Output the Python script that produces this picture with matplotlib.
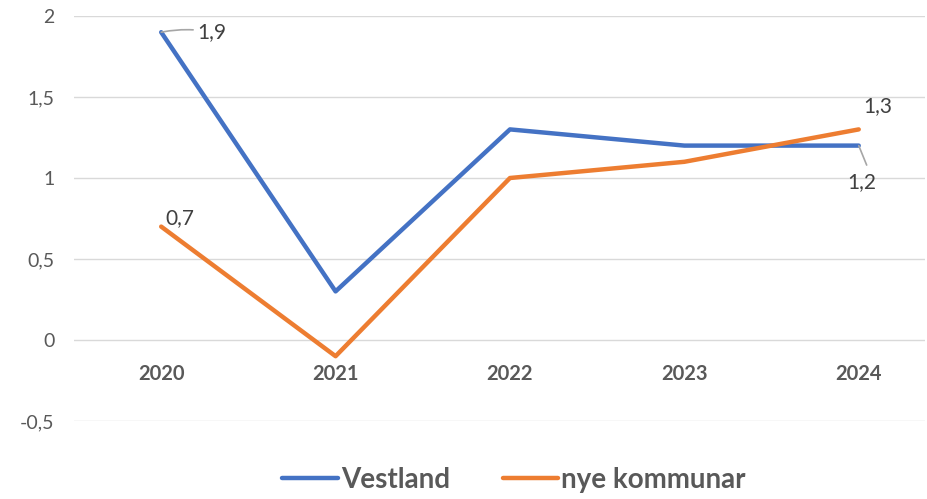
import matplotlib.pyplot as plt

years = ["2020", "2021", "2022", "2023", "2024"]
vestland = [1.9, 0.3, 1.3, 1.2, 1.2]
nye = [0.7, -0.1, 1.0, 1.1, 1.3]

blue = "#4472C4"
orange = "#ED7D31"
grey = "#595959"

plt.rcParams['font.family'] = ['Lato', 'DejaVu Sans']

fig = plt.figure(figsize=(9.27, 4.99), dpi=100)
ax = fig.add_axes([74 / 927, 1 - 421 / 499, (925 - 74) / 927, (421 - 16) / 499])

x = list(range(len(years)))
ax.plot(x, vestland, color=blue, lw=3.2, solid_capstyle='round', label="Vestland", zorder=3)
ax.plot(x, nye, color=orange, lw=3.2, solid_capstyle='round', label="nye kommunar", zorder=3)

ax.set_ylim(-0.5, 2)
ax.set_xlim(-0.5, 4.38)
ax.set_yticks([-0.5, 0, 0.5, 1, 1.5, 2])
ax.set_yticklabels(["-0,5", "0", "0,5", "1", "1,5", "2"])
ax.grid(axis='y', color="#d9d9d9", lw=1)
ax.set_axisbelow(True)
for s in ax.spines.values():
    s.set_visible(False)
ax.spines['bottom'].set_position(('data', 0))
ax.set_xticks(x)
ax.set_xticklabels(years, fontweight='bold')
ax.tick_params(axis='x', length=0, pad=17, labelsize=14.5, labelcolor=grey)
ax.tick_params(axis='y', length=0, pad=14, labelsize=14, labelcolor=grey)

# data labels
lab = dict(fontsize=15, color="#404040")
ax.annotate("1,9", (0, vestland[0]), xytext=(26, 0), textcoords='offset points',
            va='center', arrowprops=dict(arrowstyle='-', color='#a6a6a6', lw=1.2,
                                         shrinkA=1, shrinkB=0, connectionstyle="arc3,rad=0.1"), **lab)
ax.annotate("0,7", (0, nye[0]), xytext=(3, 6), textcoords='offset points', va='center', **lab)
ax.annotate("1,3", (4, nye[4]), xytext=(3, 17), textcoords='offset points', va='center', **lab)
ax.annotate("1,2", (4, vestland[4]), xytext=(-8, -26), textcoords='offset points',
            va='center', ha='left', arrowprops=dict(arrowstyle='-', color='#a6a6a6', lw=1.2,
                                                   relpos=(0.75, 1.0), shrinkA=3, shrinkB=0), **lab)

leg = ax.legend(loc='center', bbox_to_anchor=(514 / 927, 1 - 480 / 499),
                bbox_transform=fig.transFigure, ncol=2, frameon=False,
                prop=dict(size=20, weight='bold'), handlelength=2.0,
                columnspacing=1.9, handletextpad=0.1)
for t in leg.get_texts():
    t.set_color(grey)

fig.savefig("out.png", dpi=100)
